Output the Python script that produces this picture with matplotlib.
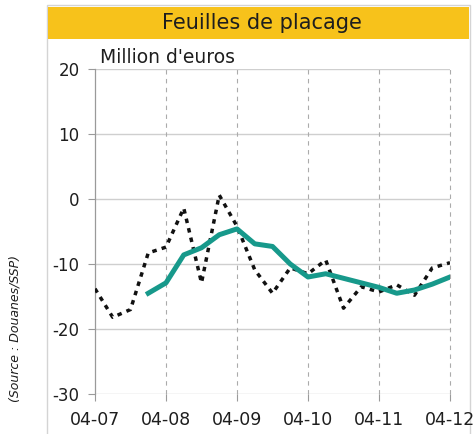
import matplotlib
matplotlib.use("Agg")
import matplotlib.pyplot as plt
from matplotlib.patches import Rectangle
import numpy as np

plt.rcParams["font.family"] = ["DejaVu Sans"]
plt.rcParams["axes.unicode_minus"] = False

# quarterly points, years as decimals (2007.25 = April 2007)
raw_x = [2007.25, 2007.5, 2007.75, 2008.0, 2008.25, 2008.5, 2008.75, 2009.0,
         2009.25, 2009.5, 2009.75, 2010.0, 2010.25, 2010.5, 2010.75, 2011.0,
         2011.25, 2011.5, 2011.75, 2012.0, 2012.25]
raw_values = [-13.8, -18.2, -17.0, -8.3, -7.4, -1.4, -12.9, 0.6,
              -4.2, -10.9, -14.5, -10.6, -11.5, -9.4, -16.8, -13.5,
              -14.3, -13.2, -14.8, -10.6, -9.8]

smooth_x = [2008.0, 2008.25, 2008.5, 2008.75, 2009.0, 2009.25, 2009.5, 2009.75,
            2010.0, 2010.25, 2010.5, 2010.75, 2011.0, 2011.25, 2011.5, 2011.75,
            2012.0, 2012.25]
smooth_values = [-14.5, -12.9, -8.6, -7.5, -5.5, -4.6, -6.9, -7.3,
                 -10.0, -12.0, -11.5, -12.2, -12.9, -13.6, -14.5, -14.0,
                 -13.1, -12.0]

tick_years = [2007.25, 2008.25, 2009.25, 2010.25, 2011.25, 2012.25]
tick_labels = ["04-07", "04-08", "04-09", "04-10", "04-11", "04-12"]
y_ticks = [-30, -20, -10, 0, 10, 20]

W, H = 476, 434
fig = plt.figure(figsize=(W / 100, H / 100), dpi=100, facecolor="white")

# panel frame and yellow title banner
fig.patches.append(Rectangle((47 / W, -0.01), (470 - 47) / W, 1 - 5 / H + 0.01,
                             transform=fig.transFigure, facecolor="white",
                             edgecolor="#d4d4d4", linewidth=1.0, zorder=0))
fig.patches.append(Rectangle((48 / W, 1 - 39 / H), (469 - 48) / W, 32 / H,
                             transform=fig.transFigure, facecolor="#f7c21b",
                             edgecolor="none", zorder=1))
fig.text(262 / W, 1 - 23 / H, "Feuilles de placage", ha="center", va="center",
         fontsize=15, color="#1e1e1e")
fig.text(100 / W, 1 - 63 / H, "Million d'euros", ha="left", va="baseline",
         fontsize=13.5, color="#1e1e1e")
fig.text(15 / W, 1 - 328 / H, "(Source : Douanes/SSP)", rotation=90,
         ha="center", va="center", fontsize=9, style="italic", color="#1e1e1e")

ax = fig.add_axes([95 / W, 1 - 394 / H, (450 - 95) / W, (394 - 69) / H], zorder=3)
ax.set_facecolor("white")

for y in y_ticks:
    ax.axhline(y, color="#cfcfcf", linewidth=1.0, zorder=1)
for x in tick_years[1:]:
    ax.axvline(x, color="#ababab", linewidth=0.8, linestyle=(0, (4, 4)),
               zorder=1, clip_on=False)

ax.plot(raw_x, raw_values, color="#111111", linewidth=2.5,
        linestyle=(0, (1.3, 1.5)), zorder=3)
ax.plot(smooth_x, smooth_values, color="#17998b", linewidth=3.6,
        solid_joinstyle="round", zorder=4)

ax.set_xlim(tick_years[0], tick_years[-1])
ax.set_ylim(-30, 20)
ax.set_xticks(tick_years)
ax.set_xticklabels(tick_labels)
ax.set_yticks(y_ticks)
ax.tick_params(axis="y", length=5, width=0.8, color="#9a9a9a", pad=6,
               labelsize=12, labelcolor="#1e1e1e")
ax.tick_params(axis="x", length=5, width=0.8, color="#9a9a9a", pad=7,
               labelsize=12.5, labelcolor="#1e1e1e")
for side in ("top", "right", "bottom"):
    ax.spines[side].set_visible(False)
ax.spines["left"].set_color("#9a9a9a")
ax.spines["left"].set_linewidth(0.9)

fig.savefig("out.png", dpi=100, facecolor="white")
